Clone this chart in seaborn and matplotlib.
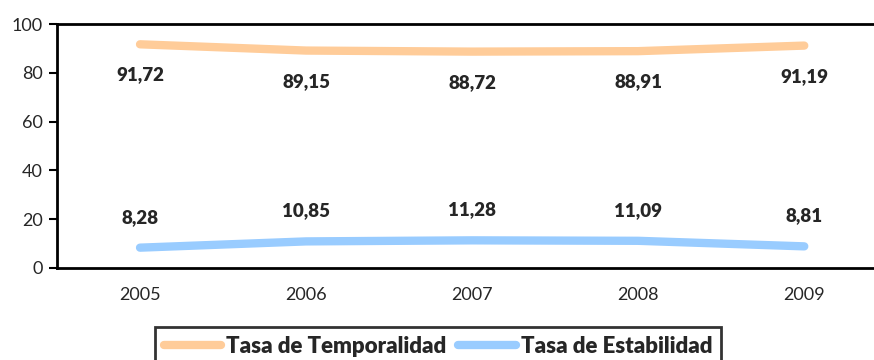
import matplotlib
matplotlib.use("Agg")
import matplotlib.pyplot as plt
import seaborn as sns
import pandas as pd

years = ["2005", "2006", "2007", "2008", "2009"]
temporalidad = [91.72, 89.15, 88.72, 88.91, 91.19]
estabilidad = [8.28, 10.85, 11.28, 11.09, 8.81]
series_names = ["Tasa de Temporalidad", "Tasa de Estabilidad"]
colors = ["#FFCC99", "#99CCFF"]
y_ticks = [0, 20, 40, 60, 80, 100]

sns.set_style("white")
plt.rcParams["font.family"] = ["Lato", "DejaVu Sans"]

df = pd.DataFrame({
    "year": years * 2,
    "x": list(range(len(years))) * 2,
    "valor": temporalidad + estabilidad,
    "serie": [series_names[0]] * len(years) + [series_names[1]] * len(years),
})

fig = plt.figure(figsize=(8.74, 3.6), dpi=100)
ax = fig.add_axes([0.0652, 0.256, 0.950, 0.677])

sns.lineplot(data=df, x="x", y="valor", hue="serie", palette=colors,
             linewidth=6, ax=ax, legend=False, sort=False,
             solid_capstyle="round")

ax.set_xlim(-0.5, len(years) - 0.5)
ax.set_ylim(0, 100)
ax.set_yticks(y_ticks)
ax.set_yticklabels([str(t) for t in y_ticks], fontsize=13)
ax.set_xticks([i for i in range(len(years))])
ax.set_xticklabels(years, fontsize=13)
ax.set_xlabel("")
ax.set_ylabel("")

# category tick marks sit between the years
ax.set_xticks([i - 0.5 for i in range(len(years) + 1)], minor=True)
ax.tick_params(axis="x", which="major", length=0, pad=14)
ax.tick_params(axis="x", which="minor", length=6, width=1.5, direction="out", color="black")
ax.tick_params(axis="y", length=6, width=1.5, direction="out", color="black", pad=4)
ax.yaxis.set_ticks_position("left")

for side in ["left", "top", "bottom", "right"]:
    ax.spines[side].set_visible(True)
    ax.spines[side].set_color("black")
    ax.spines[side].set_linewidth(2)
ax.grid(False)

# value labels: below the upper series, above the lower one
fmt = lambda v: f"{v:.2f}".replace(".", ",")
for i, v in enumerate(temporalidad):
    ax.annotate(fmt(v), (i, v), xytext=(0, -22), textcoords="offset points",
                ha="center", va="center", fontsize=13.5, fontweight="heavy")
for i, v in enumerate(estabilidad):
    ax.annotate(fmt(v), (i, v), xytext=(0, 22), textcoords="offset points",
                ha="center", va="center", fontsize=13.5, fontweight="heavy")

handles = [plt.Line2D([], [], color=c, linewidth=6, solid_capstyle="round") for c in colors]
leg = fig.legend(handles, series_names, loc="upper center", bbox_to_anchor=(0.501, 0.092),
                 ncol=2, frameon=True, fancybox=False, handlelength=2.6,
                 handletextpad=0.2, columnspacing=0.55, borderpad=0.4,
                 borderaxespad=0,
                 prop={"weight": "heavy", "size": 16})
leg.get_frame().set_edgecolor("black")
leg.get_frame().set_linewidth(2)

fig.savefig("out.png", dpi=100)
